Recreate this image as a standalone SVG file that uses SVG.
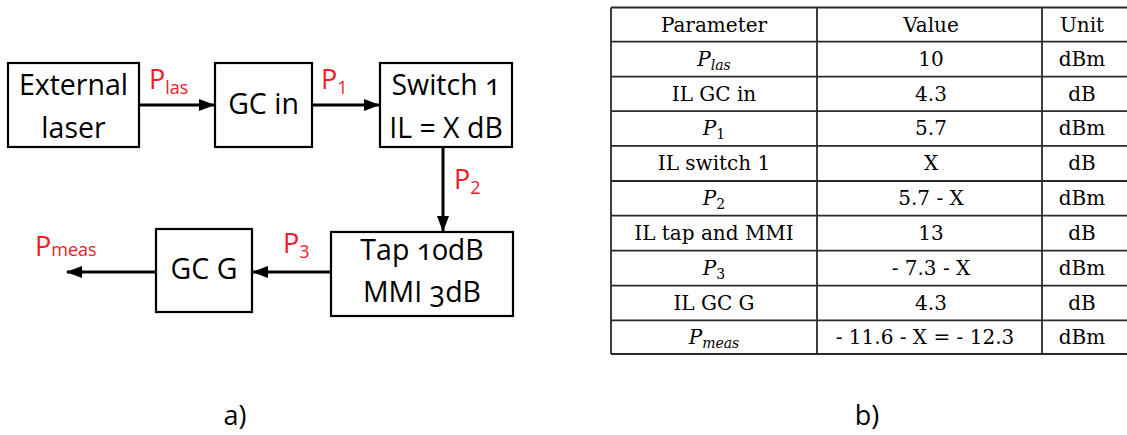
<svg xmlns="http://www.w3.org/2000/svg" width="1127" height="435" viewBox="0 0 1127 435">
<style>
.box{fill:#fff;stroke:#000;stroke-width:2.2}
.t{font-family:"Open Sans","Noto Sans",sans-serif;font-size:28.5px;fill:#000;text-anchor:middle;font-variant-numeric:oldstyle-nums}
.lbl{font-family:"Open Sans","Noto Sans",sans-serif;font-size:27px;fill:#ee1c25}
.sub{font-size:18px}
.conn{stroke:#000;stroke-width:3;fill:none}
.cap{font-family:"Open Sans","Noto Sans",sans-serif;font-size:27px;fill:#000;text-anchor:middle}
.grid{stroke:#2a2a2a;stroke-width:1.8}
.tt{font-family:"DejaVu Serif","Liberation Serif",serif;font-size:20px;fill:#000;text-anchor:middle}
.it{font-style:italic}
.ts{font-size:14px}
</style>
<defs>
<marker id="ah" markerWidth="16" markerHeight="12" refX="15" refY="6" orient="auto" markerUnits="userSpaceOnUse">
<path d="M0,0 L16,6 L0,12 Z" fill="#000"/>
</marker>
</defs>
<rect width="1127" height="435" fill="#fff"/>
<g id="connectors">
<line class="conn" x1="139" y1="105" x2="214" y2="105" marker-end="url(#ah)"/>
<line class="conn" x1="312" y1="105" x2="379" y2="105" marker-end="url(#ah)"/>
<line class="conn" x1="443" y1="147" x2="443" y2="231" marker-end="url(#ah)"/>
<line class="conn" x1="331" y1="272" x2="253" y2="272" marker-end="url(#ah)"/>
<line class="conn" x1="156" y1="272" x2="67" y2="272" marker-end="url(#ah)"/>
<text class="lbl" x="149" y="89">P<tspan class="sub" dy="5">las</tspan></text>
<text class="lbl" x="321" y="89">P<tspan class="sub" dy="5">1</tspan></text>
<text class="lbl" x="454" y="189">P<tspan class="sub" dy="5">2</tspan></text>
<text class="lbl" x="283" y="253">P<tspan class="sub" dy="5">3</tspan></text>
<text class="lbl" x="35" y="256">P<tspan class="sub" dy="0">meas</tspan></text>
</g>
<g id="ext">
<rect class="box" x="8" y="63" width="131" height="84"/>
<text class="t" x="73.5" y="95">External</text>
<text class="t" x="73.5" y="138">laser</text>
</g>
<g id="gcin">
<rect class="box" x="215" y="63" width="97" height="84"/>
<text class="t" x="263.5" y="114">GC in</text>
</g>
<g id="switch">
<rect class="box" x="380" y="63" width="132" height="84"/>
<text class="t" x="446" y="95">Switch 1</text>
<text class="t" x="446" y="138">IL = X dB</text>
</g>
<g id="tap">
<rect class="box" x="331" y="232" width="182" height="84"/>
<text class="t" x="422" y="260">Tap 10dB</text>
<text class="t" x="422" y="302">MMI 3dB</text>
</g>
<g id="gcg">
<rect class="box" x="156" y="229" width="96" height="83"/>
<text class="t" x="204" y="279">GC G</text>
</g>
<text class="cap" x="235" y="425">a)</text>
<text class="cap" x="867" y="425">b)</text>
<g id="table">
<g class="grid">
<line x1="611" y1="7.5" x2="1127" y2="7.5"/>
<line x1="611" y1="41.7" x2="1127" y2="41.7"/>
<line x1="611" y1="76.7" x2="1127" y2="76.7"/>
<line x1="611" y1="111.2" x2="1127" y2="111.2"/>
<line x1="611" y1="145.8" x2="1127" y2="145.8"/>
<line x1="611" y1="181" x2="1127" y2="181"/>
<line x1="611" y1="215.7" x2="1127" y2="215.7"/>
<line x1="611" y1="250.7" x2="1127" y2="250.7"/>
<line x1="611" y1="285.7" x2="1127" y2="285.7"/>
<line x1="611" y1="320.3" x2="1127" y2="320.3"/>
<line x1="611" y1="354" x2="1127" y2="354"/>
<line x1="611" y1="7.5" x2="611" y2="354"/>
<line x1="817" y1="7.5" x2="817" y2="354"/>
<line x1="1042" y1="7.5" x2="1042" y2="354"/>
</g>
<text class="tt" x="714" y="32">Parameter</text>
<text class="tt" x="931" y="32">Value</text>
<text class="tt" x="1082" y="32">Unit</text>
<text class="tt" x="714" y="66"><tspan class="it">P</tspan><tspan class="it ts" dy="4">las</tspan></text>
<text class="tt" x="931" y="66">10</text>
<text class="tt" x="1082" y="66">dBm</text>
<text class="tt" x="714" y="101">IL GC in</text>
<text class="tt" x="931" y="101">4.3</text>
<text class="tt" x="1082" y="101">dB</text>
<text class="tt" x="714" y="135"><tspan class="it">P</tspan><tspan class="ts" dy="4">1</tspan></text>
<text class="tt" x="931" y="135">5.7</text>
<text class="tt" x="1082" y="135">dBm</text>
<text class="tt" x="714" y="170">IL switch 1</text>
<text class="tt" x="931" y="170">X</text>
<text class="tt" x="1082" y="170">dB</text>
<text class="tt" x="714" y="205"><tspan class="it">P</tspan><tspan class="ts" dy="4">2</tspan></text>
<text class="tt" x="931" y="205">5.7 - X</text>
<text class="tt" x="1082" y="205">dBm</text>
<text class="tt" x="714" y="240">IL tap and MMI</text>
<text class="tt" x="931" y="240">13</text>
<text class="tt" x="1082" y="240">dB</text>
<text class="tt" x="714" y="275"><tspan class="it">P</tspan><tspan class="ts" dy="4">3</tspan></text>
<text class="tt" x="931" y="275">- 7.3 - X</text>
<text class="tt" x="1082" y="275">dBm</text>
<text class="tt" x="714" y="310">IL GC G</text>
<text class="tt" x="931" y="310">4.3</text>
<text class="tt" x="1082" y="310">dB</text>
<text class="tt" x="714" y="344"><tspan class="it">P</tspan><tspan class="it ts" dy="4">meas</tspan></text>
<text class="tt" x="925" y="344">- 11.6 - X = - 12.3</text>
<text class="tt" x="1082" y="344">dBm</text>
</g>
</svg>
